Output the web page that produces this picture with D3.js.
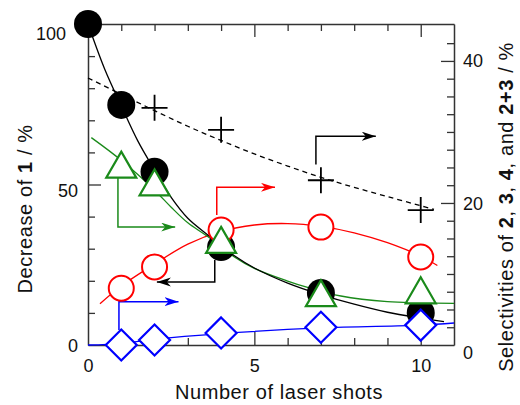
<!DOCTYPE html>
<html><head><meta charset="utf-8">
<script src="https://cdn.jsdelivr.net/npm/d3@7"></script>
<style>
html,body{margin:0;padding:0;background:#fff;}
svg{display:block;font-family:"Liberation Sans",Arial,sans-serif;}
</style></head>
<body><svg id="c" width="520" height="405"></svg>
<script>
// ---- data ----
const shots = [0, 1, 2, 4, 7, 10];
const decrease1 = [100, 74.8, 54, 30.5, 16.2, 10.0];          // left axis, black filled circles
const shotsSel = [1, 2, 4, 7, 10];
const sel2 = [8.0, 11.0, 16.2, 16.6, 12.4];                    // red circles (right axis)
const sel3 = [25.4, 22.9, 14.8, 7.3, 7.7];                     // green triangles
const sel4 = [0, 0.7, 1.7, 2.5, 2.8];                          // blue diamonds
const shotsSum = [2, 4, 7, 10];
const sel23 = [33.4, 30.3, 23.2, 19.0];                        // crosses
// fitted curves
const fitBlackX = [0, 0.5, 1, 1.5, 2, 2.5, 3, 3.6, 4, 4.4, 5, 6, 7, 8, 9, 10, 10.7];
const fitBlackY = [100, 86, 74.5, 63.5, 54.5, 46, 39.5, 34.3, 31, 27.8, 24, 19.3, 15.7, 12.7, 10.2, 8.4, 7.3];
const fitGreenX = [0.1, 1, 2, 2.5, 3, 3.5, 4, 4.4, 5, 6, 6.6, 7.6, 9, 10, 11];
const fitGreenY = [29.2, 26, 21.8, 19.4, 17.2, 15.6, 13.9, 12.4, 10.8, 9, 8.1, 6.9, 6.1, 5.95, 5.85];
const fitRedX = [0.36, 1, 2, 3, 4, 5, 6, 7, 8, 9, 10, 10.5];
const fitRedY = [5.8, 8.3, 11.4, 14.2, 16.0, 16.9, 17.1, 16.7, 15.8, 14.4, 12.5, 11.2];
const fitBlueX = [0, 1, 2, 4, 7, 10, 11];
const fitBlueY = [0, 0.2, 0.8, 1.6, 2.4, 2.8, 3.1];
const fitSumX = [0, 1, 2, 3, 4, 5, 6, 7, 8, 9, 10, 10.4];
const fitSumY = [37.6, 35.3, 33, 30.8, 28.8, 26.9, 25.2, 23.6, 22.2, 20.9, 19.6, 19.1];
// tick values
const xMinor = [1, 2, 3, 4, 6, 7, 8, 9];
const xMajor = [5, 10];
const xLabels = [0, 5, 10];
const yLMinor = [10, 20, 30, 40, 60, 70, 80, 90];
const yLMajor = [50];
const yLLabels = [0, 50, 100];
const yRMinor = [2.5, 5, 7.5, 10, 12.5, 15, 17.5, 22.5, 25, 27.5, 30, 32.5, 35, 37.5, 42.5];
const yRMajor = [20, 40];
const yRLabels = [0, 20, 40];
// annotation arrows (axis units): [axis, points]
const arrows = [
  {axis: "R", color: "#000", pts: [[6.85, 25.4], [6.85, 29.4], [8.65, 29.4]]},
  {axis: "R", color: "#ff0000", pts: [[3.87, 18.3], [3.87, 22.2], [5.62, 22.2]]},
  {axis: "R", color: "#1a8a1a", pts: [[0.9, 23.8], [0.9, 16.6], [2.62, 16.6]]},
  {axis: "L", color: "#000", pts: [[3.81, 26.5], [3.81, 19.6], [2.07, 19.6]]},
  {axis: "R", color: "#0000ff", pts: [[0.93, 2.1], [0.93, 6.1], [2.72, 6.1]]}
];

// ---- scales ----
const svg = d3.select("#c");
const x = d3.scaleLinear().domain([0, 11]).range([88, 454]);
const yL = d3.scaleLinear().domain([0, 100]).range([345, 24]);
const yR = d3.scaleLinear().domain([0, 45.2]).range([345, 24]);
const axisColor = "#333";

function styleAxis(g) {
  g.selectAll("path.domain").attr("stroke", axisColor).attr("stroke-width", 1.5);
  g.selectAll(".tick line").attr("stroke", axisColor).attr("stroke-width", 1.3);
}
function tickAxis(axisFn, scale, minor, major, transform, domainOn) {
  const g1 = svg.append("g").attr("transform", transform)
    .call(axisFn(scale).tickValues(minor).tickSize(7).tickSizeOuter(0).tickFormat(""));
  if (!domainOn) g1.select(".domain").remove();
  styleAxis(g1);
  const g2 = svg.append("g").attr("transform", transform)
    .call(axisFn(scale).tickValues(major).tickSize(13).tickSizeOuter(0).tickFormat(""));
  g2.select(".domain").remove();
  styleAxis(g2);
}
tickAxis(d3.axisTop, x, xMinor, xMajor, "translate(0,345)", true);
tickAxis(d3.axisBottom, x, xMinor, xMajor, "translate(0,24)", true);
tickAxis(d3.axisRight, yL, yLMinor, yLMajor, "translate(88,0)", true);
tickAxis(d3.axisLeft, yR, yRMinor, yRMajor, "translate(454,0)", true);

// tick labels
const lblFont = "18px";
const gxl = svg.append("g").attr("transform", "translate(0,345)")
  .call(d3.axisBottom(x).tickValues(xLabels).tickSize(0).tickPadding(14).tickFormat(d3.format("d")));
gxl.select(".domain").remove();
gxl.selectAll("text").attr("font-size", lblFont).attr("fill", "#111").attr("font-family", "Liberation Sans, Arial, sans-serif");

const leftShift = {0: 1, 50: 6, 100: 10};
const leftDx = {0: 0, 50: 0, 100: -12};
const gyl = svg.append("g").attr("transform", "translate(88,0)")
  .call(d3.axisLeft(yL).tickValues(yLLabels).tickSize(0).tickPadding(10));
gyl.select(".domain").remove();
gyl.selectAll("text").attr("font-size", lblFont).attr("fill", "#111").attr("font-family", "Liberation Sans, Arial, sans-serif")
  .attr("y", d => leftShift[d]).attr("dx", d => leftDx[d]);

const rightShift = {0: 8, 20: 1, 40: 0};
const gyr = svg.append("g").attr("transform", "translate(454,0)")
  .call(d3.axisRight(yR).tickValues(yRLabels).tickSize(0).tickPadding(9));
gyr.select(".domain").remove();
gyr.selectAll("text").attr("font-size", lblFont).attr("fill", "#111").attr("font-family", "Liberation Sans, Arial, sans-serif")
  .attr("y", d => rightShift[d]);

// axis titles
const titleStyle = t => t.attr("font-size", "20px").attr("letter-spacing", "0.6px").attr("fill", "#111").attr("text-anchor", "middle");
const xt = svg.append("text").attr("x", 279).attr("y", 399).call(titleStyle).text("Number of laser shots");
const ylt = svg.append("text").attr("transform", "translate(32,209) rotate(-90)").call(titleStyle);
ylt.append("tspan").text("Decrease of ");
ylt.append("tspan").attr("font-weight", "bold").text("1");
ylt.append("tspan").text(" / %");
const yrt = svg.append("text").attr("transform", "translate(513,207) rotate(-90)").call(titleStyle);
[["Selectivities of ", false], ["2", true], [", ", false], ["3", true], [", ", false], ["4", true],
 [", and ", false], ["2+3", true], [" / %", false]].forEach(([t, b]) => {
  const s = yrt.append("tspan").text(t);
  if (b) s.attr("font-weight", "bold");
});

// ---- fitted lines ----
const mk = (xs, ys) => xs.map((d, i) => [d, ys[i]]);
function fit(xs, ys, yScale, color, dash) {
  const line = d3.line().x(d => x(d[0])).y(d => yScale(d[1])).curve(d3.curveCatmullRom.alpha(0.5));
  svg.append("path").datum(mk(xs, ys)).attr("d", line).attr("fill", "none")
    .attr("stroke", color).attr("stroke-width", 1.3).attr("stroke-dasharray", dash || null);
}
fit(fitSumX, fitSumY, yR, "#000", "5,4");
fit(fitRedX, fitRedY, yR, "#ff0000");
fit(fitBlueX, fitBlueY, yR, "#0000ff");
fit(fitGreenX, fitGreenY, yR, "#1a8a1a");
fit(fitBlackX, fitBlackY, yL, "#000");

// ---- arrows ----
const defs = svg.append("defs");
arrows.forEach((a, i) => {
  defs.append("marker").attr("id", "ah" + i).attr("markerUnits", "userSpaceOnUse")
    .attr("markerWidth", 16).attr("markerHeight", 10).attr("refX", 14).attr("refY", 4.5)
    .attr("orient", "auto")
    .append("path").attr("d", "M0,0 L14,4.5 L0,9 L4,4.5 Z").attr("fill", a.color);
  const ys = a.axis === "L" ? yL : yR;
  svg.append("path").attr("d", d3.line().x(d => x(d[0])).y(d => ys(d[1]))(a.pts))
    .attr("fill", "none").attr("stroke", a.color).attr("stroke-width", 1.5)
    .attr("marker-end", "url(#ah" + i + ")");
});

// ---- markers ----
svg.append("g").selectAll("circle").data(shots).join("circle")
  .attr("cx", d => x(d)).attr("cy", (d, i) => yL(decrease1[i])).attr("r", 14).attr("fill", "#000");

svg.append("g").selectAll("circle").data(shotsSel).join("circle")
  .attr("cx", d => x(d)).attr("cy", (d, i) => yR(sel2[i])).attr("r", 12.5)
  .attr("fill", "#fff").attr("stroke", "#ff0000").attr("stroke-width", 2);

svg.append("g").selectAll("path").data(shotsSel).join("path")
  .attr("transform", (d, i) => `translate(${x(d)},${yR(sel4[i])})`)
  .attr("d", "M0,-15.5 L15.5,0 L0,15.5 L-15.5,0 Z")
  .attr("fill", "#fff").attr("stroke", "#0000ff").attr("stroke-width", 2.2).attr("stroke-linejoin", "miter");

svg.append("g").selectAll("path").data(shotsSel).join("path")
  .attr("transform", (d, i) => `translate(${x(d)},${yR(sel3[i])})`)
  .attr("d", "M0,-13 L15,13 L-15,13 Z")
  .attr("fill", "#fff").attr("stroke", "#1a8a1a").attr("stroke-width", 2.2);

svg.append("g").selectAll("path").data(shotsSum).join("path")
  .attr("transform", (d, i) => `translate(${x(d)},${yR(sel23[i])})`)
  .attr("d", "M-13,0 L13,0 M0,-13 L0,13")
  .attr("fill", "none").attr("stroke", "#000").attr("stroke-width", 1.8);
</script></body></html>
